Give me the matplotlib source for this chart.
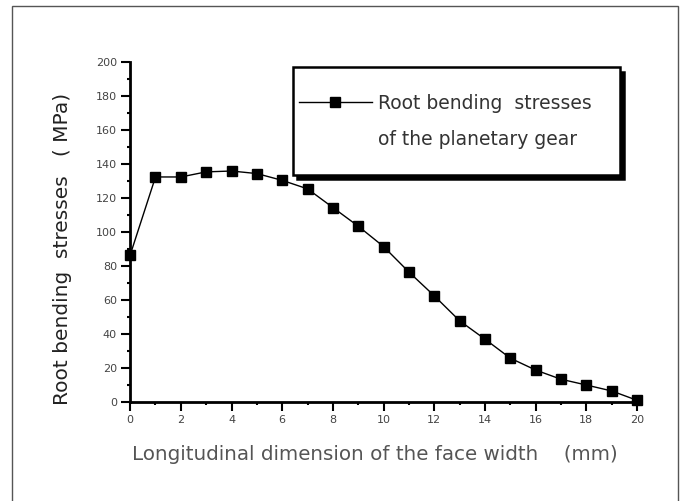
import matplotlib
matplotlib.use('Agg')
import matplotlib.pyplot as plt
from matplotlib.patches import Rectangle
from matplotlib.lines import Line2D
from matplotlib.ticker import MultipleLocator
from matplotlib.transforms import ScaledTranslation

# 齿面纵向位置 (mm) 与齿根弯曲应力 (MPa)
face_pos = list(range(0, 21))
root_stress = [86.5, 132.5, 132.5, 135.5, 136.0, 134.5, 130.5, 125.5, 114.5, 103.5,
               91.5, 76.5, 62.5, 47.8, 37.0, 25.8, 18.8, 13.4, 10.0, 6.5, 1.0]

x_ticks = list(range(0, 21, 2))
y_ticks = list(range(0, 201, 20))
legend_lines = ['Root bending  stresses', 'of the planetary gear']

plt.rcParams['font.family'] = ['DejaVu Sans']

fig = plt.figure(figsize=(6.85, 5.01), dpi=100)
ax = fig.add_axes([0.190, 0.1976, 0.740, 0.678])

# 外框
fig.patches.append(Rectangle((0.0175, -0.02), 0.972, 1.008, transform=fig.transFigure,
                             fill=False, ec='#555555', lw=1.0))

line, = ax.plot(face_pos, root_stress, color='black', lw=1.0, marker='s',
                markersize=7, clip_on=False, zorder=3)

ax.set_xlim(0, 20)
ax.set_ylim(0, 200)
ax.set_xticks(x_ticks)
ax.set_yticks(y_ticks)
ax.xaxis.set_minor_locator(MultipleLocator(1))
ax.yaxis.set_minor_locator(MultipleLocator(10))

for s in ['top', 'right']:
    ax.spines[s].set_visible(False)
for s in ['left', 'bottom']:
    ax.spines[s].set_linewidth(2.0)

ax.tick_params(which='major', length=6.5, width=1.5, labelsize=8, labelcolor='#444444', pad=3)
ax.tick_params(which='minor', length=2.5, width=1.5)

ax.set_xlabel('Longitudinal dimension of the face width    (mm)', fontsize=14.3, color='#555555')
ax.xaxis.set_label_coords(0.482, -0.128)
ax.set_ylabel('Root bending  stresses   ( MPa)', fontsize=14.5, color='#222222')
ax.yaxis.set_label_coords(-0.115, 0.45)

# 图例框（带阴影）
sh = ScaledTranslation(3 / 72, -3 / 72, fig.dpi_scale_trans)
ax.add_patch(Rectangle((0.321, 0.668), 0.645, 0.317, transform=ax.transAxes + sh,
                       fc='black', ec='black', lw=1.8, zorder=4))
ax.add_patch(Rectangle((0.321, 0.668), 0.645, 0.317, transform=ax.transAxes,
                       fc='white', ec='black', lw=1.8, zorder=4.1))

handles = [Line2D([], [], color='black', lw=1.0, marker='s', markersize=7),
           Line2D([], [], color='none')]
leg = ax.legend(handles, legend_lines, loc='center left', bbox_to_anchor=(0.325, 0.826),
                frameon=False, fontsize=13.5, handlelength=3.9, handletextpad=0.35,
                labelspacing=0.95, borderpad=0.2, borderaxespad=0)
leg.set_zorder(5)
for t in leg.get_texts():
    t.set_color('#333333')

fig.savefig('out.png', dpi=100)
